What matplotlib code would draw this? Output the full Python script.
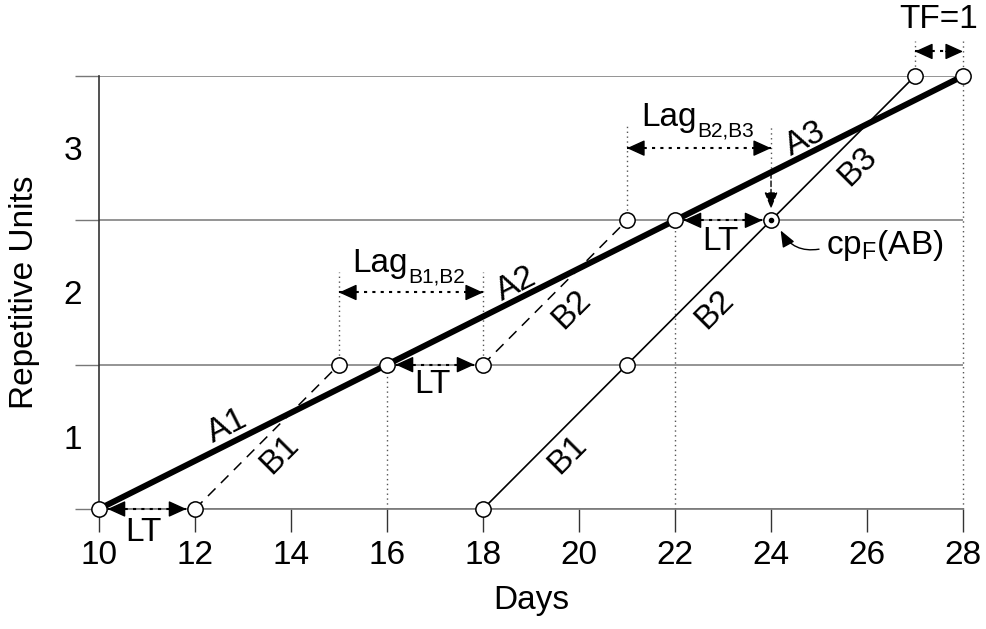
import numpy as np
import matplotlib.pyplot as plt

plt.rcParams['font.family'] = ['Liberation Sans', 'DejaVu Sans']
plt.rcParams['mathtext.fontset'] = 'custom'
plt.rcParams['mathtext.rm'] = 'Liberation Sans'
plt.rcParams['mathtext.it'] = 'Liberation Sans'
plt.rcParams['mathtext.default'] = 'regular'

FS = 24
SUB = 15

# activity A (critical, thick)
days_A = [10, 16, 22, 28]
units_A = [0, 1, 2, 3]
labels_A = ['A1', 'A2', 'A3']
labpos_A = [(12.67, 0.57), (18.69, 1.56), (24.71, 2.56)]

# activity B, first schedule (dashed, unit-by-unit)
dash_B_days = [[12, 15], [18, 21]]
dash_B_units = [[0, 1], [1, 2]]
dash_B_labels = ['B1', 'B2']
dash_B_labpos = [(13.77, 0.375), (19.85, 1.38)]

# activity B, final schedule (thin solid)
days_B = [18, 21, 24, 27]
units_B = [0, 1, 2, 3]
labels_B = ['B1', 'B2', 'B3']
labpos_B = [(19.77, 0.375), (22.83, 1.38), (25.81, 2.37)]

# lead time arrows (start, end, y) and label positions
lt_start = [10, 16, 22]
lt_end = [12, 18, 24]
lt_units = [0, 1, 2]
lt_labpos = [(10.92, -0.16), (16.94, 0.86), (22.94, 1.85)]

# lags
lag_start = [15, 21]
lag_end = [18, 24]
lag_y = [1.5, 2.5]
lag_sub = ['B1,B2', 'B2,B3']
lag_anchor = [(16.44, 1.639), (22.46, 2.653)]

# TF
tf_start, tf_end, tf_y = 27, 28, 3.17

fig = plt.figure(figsize=(9.86, 6.29), dpi=100)
ax = fig.add_axes([0.1004, 0.1908, 0.8763, 0.6884])
ax.set_xlim(10, 28)
ax.set_ylim(0, 3)

for s in ['top', 'right']:
    ax.spines[s].set_visible(False)
ax.spines['left'].set_color('#333333')
ax.spines['bottom'].set_color('#777777')
ax.spines['left'].set_linewidth(1.2)
ax.spines['bottom'].set_linewidth(1.2)

ax.set_xticks(np.arange(10, 29, 2))
ax.tick_params(axis='x', direction='out', length=16.5, width=1.0, color='#333333',
               labelsize=FS, pad=6)
ax.set_yticks([0, 1, 2, 3])
ax.set_yticklabels([])
ax.tick_params(axis='y', which='major', direction='out', length=17, width=1.0,
               color='#777777')
ax.set_yticks([0.5, 1.5, 2.5], minor=True)
ax.set_yticklabels(['1', '2', '3'], minor=True)
ax.tick_params(axis='y', which='minor', length=0, labelsize=FS, pad=12)
ax.grid(axis='y', which='major', color='#777777', lw=1.1)
ax.set_axisbelow(True)

ax.set_xlabel('Days', fontsize=FS, labelpad=10)
ax.set_ylabel('Repetitive Units', fontsize=FS, labelpad=17)


def rot(x0, y0, x1, y1):
    p0 = ax.transData.transform((x0, y0))
    p1 = ax.transData.transform((x1, y1))
    return np.degrees(np.arctan2(p1[1] - p0[1], p1[0] - p0[0]))


def dbl_arrow(x0, x1, y, ls=(0, (1.5, 2.5))):
    ax.plot([x0, x1], [y, y], color='black', lw=1.5, ls=ls, clip_on=False, zorder=4)
    for tip, back in [(x0, x0 + 0.36), (x1, x1 - 0.36)]:
        ax.annotate('', xy=(tip, y), xytext=(back, y), annotation_clip=False,
                    arrowprops=dict(arrowstyle='-|>,head_length=1.1,head_width=0.5',
                                    mutation_scale=10, color='black', lw=1,
                                    shrinkA=0, shrinkB=0), zorder=4)


dotted = dict(color='#555555', lw=1, ls=(0, (1, 2.5)), clip_on=False, zorder=1)

# vertical guide lines
ax.plot([15, 15], [1, 1.64], **dotted)
ax.plot([18, 18], [1, 1.64], **dotted)
ax.plot([16, 16], [0, 1], **dotted)
ax.plot([22, 22], [0, 2], **dotted)
ax.plot([21, 21], [2, 2.66], **dotted)
ax.plot([24, 24], [2.33, 2.66], **dotted)
ax.plot([27, 27], [3, 3.24], **dotted)
ax.plot([28, 28], [0, 3.24], **dotted)

# lines
ax.plot(days_A, units_A, color='black', lw=4.3, solid_capstyle='butt', zorder=3,
        clip_on=False)
for xs, ys in zip(dash_B_days, dash_B_units):
    ax.plot(xs, ys, color='black', lw=1.1, ls=(0, (7, 5)), zorder=3)
ax.plot(days_B, units_B, color='black', lw=1.2, zorder=3)

# circles
mk = dict(marker='o', ms=11, mfc='white', mec='black', mew=1.1, ls='none',
          clip_on=False, zorder=6)
ax.plot(days_A, units_A, **mk)
for xs, ys in zip(dash_B_days, dash_B_units):
    ax.plot(xs, ys, **mk)
ax.plot(days_B, units_B, **mk)
ax.plot(days_B[2], units_B[2], marker='o', ms=3, color='black', ls='none', zorder=7)

# segment labels
ra = rot(days_A[0], units_A[0], days_A[1], units_A[1])
for t, (x, y) in zip(labels_A, labpos_A):
    ax.text(x, y, t, fontsize=FS, rotation=ra, ha='center', va='center',
            rotation_mode='anchor', zorder=5)
rb = rot(days_B[0], units_B[0], days_B[1], units_B[1])
for t, (x, y) in zip(dash_B_labels + labels_B, dash_B_labpos + labpos_B):
    ax.text(x, y, t, fontsize=FS, rotation=rb, ha='center', va='center',
            rotation_mode='anchor', zorder=5)

# LT arrows
for x0, x1, y, (lx, ly) in zip(lt_start, lt_end, lt_units, lt_labpos):
    dbl_arrow(x0 + 0.18, x1 - 0.18, y)
    ax.text(lx, ly, 'LT', fontsize=FS, ha='center', va='center', clip_on=False)

# lag arrows
for x0, x1, y, sub, (lx, ly) in zip(lag_start, lag_end, lag_y, lag_sub, lag_anchor):
    dbl_arrow(x0, x1, y)
    ax.text(lx, ly, 'Lag', fontsize=FS, ha='right', va='baseline')
    ax.annotate(sub, xy=(lx, ly), xytext=(0, -7.5), textcoords='offset points',
                fontsize=SUB, ha='left', va='baseline')

# down arrow to critical point
ax.annotate('', xy=(24, 2.08), xytext=(24, 2.33),
            arrowprops=dict(arrowstyle='-|>,head_length=1.0,head_width=0.4',
                            mutation_scale=10, color='black', lw=1,
                            ls=(0, (4, 2)), shrinkA=0, shrinkB=0))

# critical point label
ax.text(26.375, 1.764, 'cp$_F$(AB)', fontsize=FS, ha='center', va='baseline')
ax.annotate('', xy=(24.2, 1.93), xytext=(25.0, 1.8),
            arrowprops=dict(arrowstyle='-|>,head_length=1.0,head_width=0.4',
                            mutation_scale=10, color='black', lw=1,
                            connectionstyle='arc3,rad=-0.35',
                            shrinkA=0, shrinkB=0))

# total float
dbl_arrow(tf_start, tf_end, tf_y)
ax.text((tf_start + tf_end) / 2, 3.39, 'TF=1', fontsize=FS, ha='center', va='center',
        clip_on=False)

fig.savefig('out.png', dpi=100)
